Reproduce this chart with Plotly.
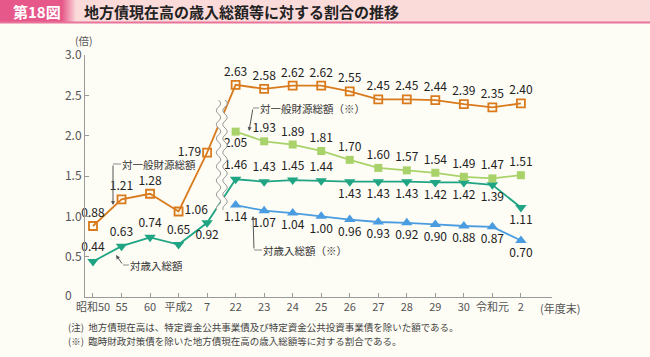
import numpy as np
import plotly.graph_objects as go

# ---------------- data ----------------
categories = ["昭和50", "55", "60", "平成2", "7", "22", "23", "24", "25", "26",
              "27", "28", "29", "30", "令和元", "2"]
general_revenue = [0.88, 1.21, 1.28, 1.06, 1.79, 2.63, 2.58, 2.62, 2.62, 2.55,
                   2.45, 2.45, 2.44, 2.39, 2.35, 2.40]
total_revenue = [0.44, 0.63, 0.74, 0.65, 0.92, 1.46, 1.43, 1.45, 1.44, 1.43,
                 1.43, 1.43, 1.42, 1.42, 1.39, 1.11]
general_revenue_ex = [2.05, 1.93, 1.89, 1.81, 1.70, 1.60, 1.57, 1.54, 1.49, 1.47, 1.51]
total_revenue_ex = [1.14, 1.07, 1.04, 1.00, 0.96, 0.93, 0.92, 0.90, 0.88, 0.87, 0.70]
y_ticks = [0.5, 1.0, 1.5, 2.0, 2.5, 3.0]
y_ticklabels = ["0.5", "1.0", "1.5", "2.0", "2.5", "3.0"]

xi = list(range(len(categories)))
xi_ex = xi[5:]

# ---------------- layout geometry helpers ----------------
W, H = 650, 357
L, R, T, B = 85, 552, 55, 297
XMIN, XMAX = -0.28, 16.09
px_per_x = (R - L) / (XMAX - XMIN)
px_per_y = (B - T) / 3.0


def px2x(px):
    return XMIN + (px - L) / px_per_x


def py2y(py):
    return (B - py) / px_per_y


def px2p(px):
    return (px - L) / (R - L)


def py2p(py):
    return (B - py) / (B - T)


BG = "#fdfcf5"
FONT = "Noto Sans CJK JP"
ORANGE = "#d97a1c"
TEAL = "#1fa583"
LGREEN = "#a9d36a"
BLUE = "#4a9ce0"

fig = go.Figure()

pos_or = ["top center", "top center", "top center", "middle right", "middle left"] + ["top center"] * 11
pos_te = ["top center"] * 4 + ["bottom center"] + ["top center"] * 4 + ["bottom center"] * 7
pos_gr = ["bottom center"] + ["top center"] * 10
pos_bl = ["bottom center"] * 11

TF = dict(size=12, color="#222", family=FONT)

fig.add_trace(go.Scatter(
    x=xi, y=general_revenue, mode="lines+markers+text",
    line=dict(color=ORANGE, width=1.8),
    marker=dict(symbol="square-open", size=8, color=ORANGE, line=dict(width=1.8, color=ORANGE)),
    text=[f"{v:.2f}" for v in general_revenue], textposition=pos_or,
    textfont=TF, cliponaxis=False, hoverinfo="skip"))
fig.add_trace(go.Scatter(
    x=xi, y=total_revenue, mode="lines+markers+text",
    line=dict(color=TEAL, width=1.8),
    marker=dict(symbol="triangle-down", size=10, color=TEAL),
    text=[f"{v:.2f}" for v in total_revenue], textposition=pos_te,
    textfont=TF, cliponaxis=False, hoverinfo="skip"))
fig.add_trace(go.Scatter(
    x=xi_ex, y=general_revenue_ex, mode="lines+markers+text",
    line=dict(color=LGREEN, width=1.8),
    marker=dict(symbol="square", size=8, color=LGREEN),
    text=[f"{v:.2f}" for v in general_revenue_ex], textposition=pos_gr,
    textfont=TF, cliponaxis=False, hoverinfo="skip"))
fig.add_trace(go.Scatter(
    x=xi_ex, y=total_revenue_ex, mode="lines+markers+text",
    line=dict(color=BLUE, width=1.8),
    marker=dict(symbol="triangle-up", size=10, color=BLUE),
    text=[f"{v:.2f}" for v in total_revenue_ex], textposition=pos_bl,
    textfont=TF, cliponaxis=False, hoverinfo="skip"))

shapes = []
annotations = []

# ---- wavy break ----
pys = np.arange(100, 211, 1.0)
amp, period = 2.2, 14.0
off = amp * np.sin(2 * np.pi * (pys - 100) / period)
lx = 218.5 + off
rx = 225.0 + off


def path_of(xs, ys):
    return "M " + " L ".join(f"{px2x(a):.4f},{py2y(b):.4f}" for a, b in zip(xs, ys))


band = path_of(np.concatenate([lx, rx[::-1]]), np.concatenate([pys, pys[::-1]])) + " Z"
shapes.append(dict(type="path", path=band, xref="x", yref="y", fillcolor=BG,
                   line=dict(width=0), layer="above"))
for xs in (lx, rx):
    shapes.append(dict(type="path", path=path_of(xs, pys), xref="x", yref="y",
                       line=dict(color="#9a9a9a", width=1), layer="above"))

# ---- leader lines & labels ----
LEAD = "#8a8a8a"


def seg(p1, p2):
    shapes.append(dict(type="line", xref="x", yref="y",
                       x0=px2x(p1[0]), y0=py2y(p1[1]), x1=px2x(p2[0]), y1=py2y(p2[1]),
                       line=dict(color=LEAD, width=1), layer="above"))


def arrow(tail, head):
    annotations.append(dict(x=px2x(head[0]), y=py2y(head[1]), ax=px2x(tail[0]), ay=py2y(tail[1]),
                            xref="x", yref="y", axref="x", ayref="y", text="", showarrow=True,
                            arrowhead=2, arrowsize=0.8, arrowwidth=1, arrowcolor="#555"))


def label(txt, px, py):
    annotations.append(dict(x=px2x(px), y=py2y(py), xref="x", yref="y", text=txt, showarrow=False,
                            xanchor="left", yanchor="middle",
                            font=dict(size=10.5, color="#333", family=FONT)))


# 対一般財源総額
seg((113, 164), (121, 164))
arrow((113, 164), (113, 205))
label("対一般財源総額", 120, 164)
# 対歳入総額
seg((123, 265), (129, 265))
arrow((123, 265), (116, 255))
label("対歳入総額", 128, 265)
# 対一般財源総額（※）
seg((253, 108), (259, 108))
arrow((253, 108), (249, 131))
label("対一般財源総額（※）", 258, 108)
# 対歳入総額（※）
seg((254, 250), (262, 250))
arrow((254, 250), (253, 216))
label("対歳入総額（※）", 261, 250)

# ---- header ----
shapes.append(dict(type="rect", xref="paper", yref="paper", x0=px2p(0), x1=px2p(W),
                   y0=py2p(22), y1=py2p(0), fillcolor="#fbdada", line=dict(width=0), layer="below"))
shapes.append(dict(type="rect", xref="paper", yref="paper", x0=px2p(0), x1=px2p(62),
                   y0=py2p(22), y1=py2p(0), fillcolor="#e6578a", line=dict(width=0), layer="below"))
c0 = np.array([0xe6, 0x57, 0x8a])
c1 = np.array([0xfb, 0xda, 0xda])
steps = 14
for k in range(steps):
    t = (k + 0.5) / steps
    c = (c0 * (1 - t) + c1 * t).astype(int)
    shapes.append(dict(type="rect", xref="paper", yref="paper", x0=px2p(62 + k), x1=px2p(63 + k),
                       y0=py2p(22), y1=py2p(0), fillcolor=f"rgb({c[0]},{c[1]},{c[2]})",
                       line=dict(width=0), layer="below"))
shapes.append(dict(type="line", xref="paper", yref="paper", x0=px2p(0), x1=px2p(W),
                   y0=py2p(22.5), y1=py2p(22.5), line=dict(color="#e8749b", width=2), layer="below"))

annotations.append(dict(xref="paper", yref="paper", x=px2p(37), y=py2p(11.5), text="<b>第18図</b>",
                        showarrow=False, xanchor="center", yanchor="middle",
                        font=dict(size=15, color="white", family=FONT)))
annotations.append(dict(xref="paper", yref="paper", x=px2p(82), y=py2p(11.5),
                        text="<b>地方債現在高の歳入総額等に対する割合の推移</b>",
                        showarrow=False, xanchor="left", yanchor="middle",
                        font=dict(size=15, color="#222", family=FONT)))

# axis titles / zero label
annotations.append(dict(xref="paper", yref="paper", x=px2p(84), y=py2p(41), text="(倍)",
                        showarrow=False, xanchor="center", yanchor="middle",
                        font=dict(size=10.5, color="#555", family=FONT)))
annotations.append(dict(xref="paper", yref="paper", x=px2p(68), y=py2p(294), text="0",
                        showarrow=False, xanchor="center", yanchor="middle",
                        font=dict(size=12, color="#555", family=FONT)))
annotations.append(dict(xref="paper", yref="paper", x=px2p(560), y=py2p(308), text="(年度末)",
                        showarrow=False, xanchor="center", yanchor="middle",
                        font=dict(size=11, color="#555", family=FONT)))

# footnotes
annotations.append(dict(xref="paper", yref="paper", x=px2p(66), y=py2p(327),
                        text="(注)  地方債現在高は、特定資金公共事業債及び特定資金公共投資事業債を除いた額である。",
                        showarrow=False, xanchor="left", yanchor="middle",
                        font=dict(size=9.5, color="#444", family=FONT)))
annotations.append(dict(xref="paper", yref="paper", x=px2p(66), y=py2p(341),
                        text="(※)  臨時財政対策債を除いた地方債現在高の歳入総額等に対する割合である。",
                        showarrow=False, xanchor="left", yanchor="middle",
                        font=dict(size=9.5, color="#444", family=FONT)))

fig.update_layout(
    width=W, height=H,
    margin=dict(l=L, r=W - R, t=T, b=H - B, pad=0),
    paper_bgcolor=BG, plot_bgcolor=BG,
    showlegend=False, hovermode=False,
    shapes=shapes, annotations=annotations,
    font=dict(family=FONT, color="#555"),
    xaxis=dict(range=[XMIN, XMAX], tickvals=xi, ticktext=categories, showgrid=False,
               zeroline=False, showline=True, linecolor="#9a9a9a", linewidth=1,
               ticks="inside", ticklen=4, tickcolor="#9a9a9a",
               tickfont=dict(size=11, color="#555", family=FONT)),
    yaxis=dict(range=[0, 3.0], tickvals=y_ticks, ticktext=y_ticklabels, showgrid=False,
               zeroline=False, showline=True, linecolor="#9a9a9a", linewidth=1,
               ticks="inside", ticklen=4, tickcolor="#9a9a9a",
               tickfont=dict(size=12, color="#555", family=FONT)),
)

fig.write_html("out.html", config={"displayModeBar": False, "staticPlot": True},
               post_script="document.body.style.margin='0';document.body.style.overflow='hidden';")
